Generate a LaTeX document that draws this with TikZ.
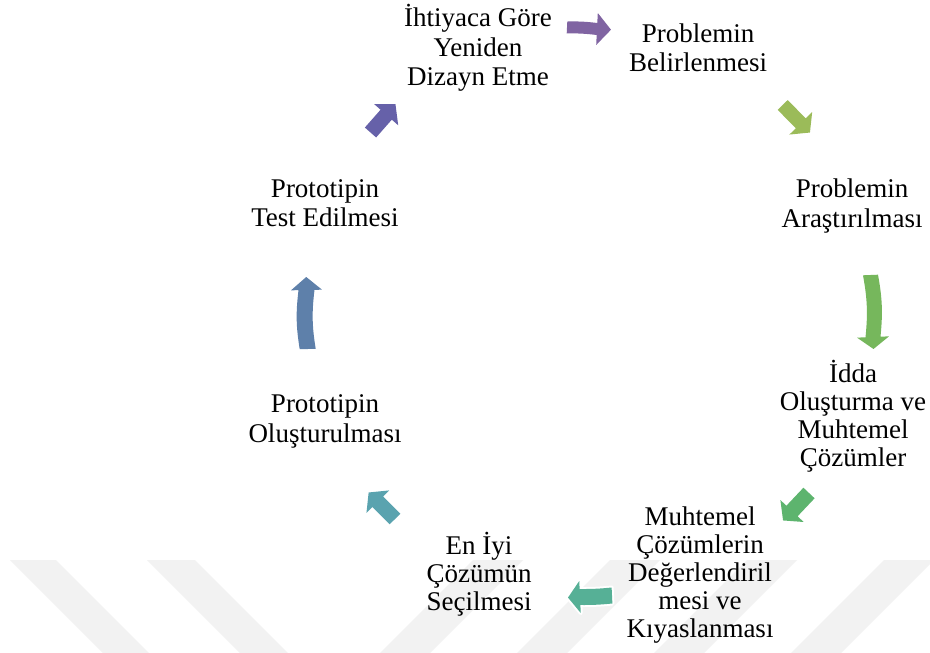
\documentclass[tikz,border=0pt]{standalone}
\usepackage{fontspec}
\setmainfont{Liberation Serif}
\usetikzlibrary{calc}

% block arrow of the cycle: fill, tail, head base, bend, shaft half width, head half width, head length
\newcommand\cycarrow[7]{%
  \fill[#1, preaction={draw=white, line width=4pt, line join=round}]
    ($(#2)!#5!90:(#3)$) to[bend left=#4] ($(#3)!#5!-90:(#2)$)
    -- ($(#3)!#6!-90:(#2)$) -- ($(#3)!-#7!(#2)$) -- ($(#3)!#6!90:(#2)$)
    -- ($(#3)!#5!90:(#2)$) to[bend right=#4] ($(#2)!#5!-90:(#3)$) -- cycle;}

\definecolor{cA}{HTML}{8064A2}
\definecolor{cB}{HTML}{9BBB59}
\definecolor{cC}{HTML}{76B75C}
\definecolor{cD}{HTML}{5DB46E}
\definecolor{cE}{HTML}{56B096}
\definecolor{cF}{HTML}{5AA3AF}
\definecolor{cG}{HTML}{5E80AA}
\definecolor{cH}{HTML}{6661A9}
\definecolor{mark}{HTML}{F2F2F2}

\begin{document}
\begin{tikzpicture}[x=1pt,y=-1pt,
  lbl/.style={align=center, inner sep=0pt, font=\fontsize{27}{29.5}\selectfont},
  tight/.style={font=\fontsize{27}{28}\selectfont},
  band/.style={fill=mark}]
\useasboundingbox (0,0) rectangle (930,653);
\fill[white] (0,0) rectangle (930,653);

% faint diagonal bands along the bottom
\begin{scope}
\clip (0,0) rectangle (930,653);
\fill[band] (10,560) -- (56,560) -- (149,653) -- (103,653) -- cycle;
\fill[band] (147,560) -- (195,560) -- (288,653) -- (240,653) -- cycle;
\fill[band] (380,653) -- (430,653) -- (523,560) -- (473,560) -- cycle;
\fill[band] (517,653) -- (567,653) -- (660,560) -- (610,560) -- cycle;
\fill[band] (654,653) -- (704,653) -- (797,560) -- (747,560) -- cycle;
\fill[band] (791,653) -- (841,653) -- (934,560) -- (884,560) -- cycle;
\end{scope}

% steps of the cycle
\node[lbl] (redesign) at (478,48) {İhtiyaca Göre\\Yeniden\\Dizayn Etme};
\node[lbl] (define) at (698,48) {Problemin\\Belirlenmesi};
\node[lbl] (research) at (852,206) {Problemin\\Araştırılması};
\node[lbl, tight] (ideas) at (853,416) {İdda\\Oluşturma ve\\Muhtemel\\Çözümler};
\node[lbl, tight] (compare) at (700,575) {Muhtemel\\Çözümlerin\\Değerlendiril\\mesi ve\\Kıyaslanması};
\node[lbl, tight] (best) at (479,574) {En İyi\\Çözümün\\Seçilmesi};
\node[lbl] (build) at (325,421.5) {Prototipin\\Oluşturulması};
\node[lbl] (test) at (325,203) {Prototipin\\Test Edilmesi};

% arrow tails and head bases
\coordinate (t1) at (567,27.5);   \coordinate (b1) at (597,29);
\coordinate (t2) at (782.7,105);  \coordinate (b2) at (800.8,123.3);
\coordinate (t3) at (870.5,275);  \coordinate (b3) at (873,337);
\coordinate (t4) at (809,493);    \coordinate (b4) at (792,511);
\coordinate (t5) at (612,595.5);  \coordinate (b5) at (580,597);
\coordinate (t6) at (395,519);    \coordinate (b6) at (377.8,501.7);
\coordinate (t7) at (307.7,349);  \coordinate (b7) at (306.5,290);
\coordinate (t8) at (370.5,132.5);\coordinate (b8) at (386.2,114.7);

\cycarrow{cA}{t1}{b1}{4}{6pt}{16pt}{14pt}
\cycarrow{cB}{t2}{b2}{0}{7pt}{16pt}{13pt}
\cycarrow{cC}{t3}{b3}{8}{7.5pt}{16pt}{12pt}
\cycarrow{cD}{t4}{b4}{0}{7.7pt}{16pt}{13pt}
\cycarrow{cE}{t5}{b5}{3}{8pt}{16pt}{12pt}
\cycarrow{cF}{t6}{b6}{0}{7.5pt}{16pt}{13pt}
\cycarrow{cG}{t7}{b7}{8}{8pt}{15.5pt}{13pt}
\cycarrow{cH}{t8}{b8}{0}{7.5pt}{16pt}{14pt}
\end{tikzpicture}
\end{document}
